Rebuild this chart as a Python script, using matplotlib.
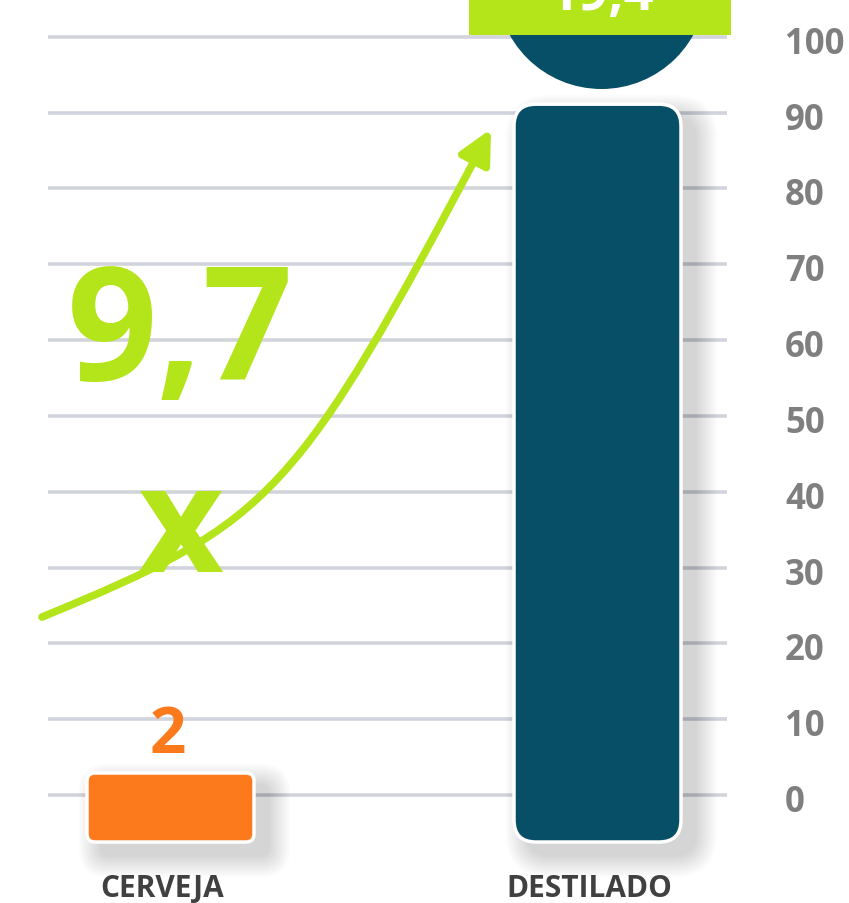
import matplotlib
matplotlib.use('Agg')
import matplotlib.pyplot as plt
from matplotlib.patches import FancyBboxPatch, Ellipse, Rectangle, FancyArrowPatch
from matplotlib.path import Path
from matplotlib.transforms import offset_copy

# ---------------- data ----------------
categories = ['CERVEJA', 'DESTILADO']
values = [2, 19.4]
value_labels = ['2', '19,4']
ratio_text = '9,7'
ratio_suffix = 'x'
# pictogram bar extents as drawn on the axis
bar_tops = [2.9, 91.1]
bar_base = -6.2
yticks = [0, 10, 20, 30, 40, 50, 60, 70, 80, 90, 100]

# ---------------- style ----------------
bar_colors = ['#FD7A1C', '#064F66']
green = '#B4E51B'
grid_color = '#D2D4DB'
tick_color = '#7F7F7F'
cat_color = '#404040'
FONT = 'Open Sans'

W, H = 849, 904
fig = plt.figure(figsize=(W / 100, H / 100), dpi=100)
ax = fig.add_axes([0, 0, 1, 1])
PX_X = 427.0      # pixels per category unit
PX_Y = 7.583      # pixels per value unit
ax.set_xlim(-170.5 / PX_X, (W - 170.5) / PX_X)
ax.set_ylim((796 - H) / PX_Y, 796 / PX_Y)
ax.axis('off')
MA = PX_X / PX_Y

# gridlines
gx0, gx1 = (48 - 170.5) / PX_X, (727 - 170.5) / PX_X
for t in yticks:
    ax.plot([gx0, gx1], [t, t], color=grid_color, lw=2.6, solid_capstyle='butt', zorder=1)

# tick labels (right side)
lab_tr = offset_copy(ax.transData, fig=fig, x=0, y=-7, units='dots')
for t in yticks:
    ax.text((785 - 170.5) / PX_X, t, str(t), transform=lab_tr, ha='left', va='center',
            fontsize=25, fontweight='bold', color=tick_color, family=FONT, zorder=5)


def add_shadow(x0, y0, w, h, r_px):
    for i in range(14):
        g = (i + 1) * 1.6
        gx, gy = g / PX_X, g / PX_Y
        dx, dy = 14 / PX_X, -13 / PX_Y
        p = FancyBboxPatch((x0 - gx + dx, y0 - gy + dy), w + 2 * gx, h + 2 * gy,
                           boxstyle=f'round,pad=0,rounding_size={(r_px + g) / PX_X}',
                           mutation_aspect=MA, fc='black', ec='none', alpha=0.012, zorder=2)
        ax.add_patch(p)


# bars
xpos = list(range(len(categories)))
bars = ax.bar(xpos, [t - bar_base for t in bar_tops], bottom=bar_base, width=167 / PX_X)
radii = [8, 22]
for rect, col, r in zip(bars, bar_colors, radii):
    x0, y0 = rect.get_x(), rect.get_y()
    w, h = rect.get_width(), rect.get_height()
    rect.remove()
    add_shadow(x0, y0, w, h, r)
    p = FancyBboxPatch((x0, y0), w, h, boxstyle=f'round,pad=0,rounding_size={r / PX_X}',
                       mutation_aspect=MA, fc=col, ec='white', lw=2.5, zorder=3)
    ax.add_patch(p)

# dot of the "i"
dot = Ellipse((xpos[1] + 4 / PX_X, (796 + 15) / PX_Y), width=210 / PX_X, height=210 / PX_Y,
              fc=bar_colors[1], ec='none', zorder=3)
ax.add_patch(dot)

# green label box for the distilled value
ax.add_patch(Rectangle(((469 - 170.5) / PX_X, (796 - 35.7) / PX_Y), 262 / PX_X, 20,
                       fc=green, ec='none', zorder=4))
ax.text(xpos[1] + 4 / PX_X, (796 - 10) / PX_Y, value_labels[1], ha='center', va='baseline',
        fontsize=38, fontweight='bold', color='white', family=FONT, zorder=5)

# value label for beer
ax.annotate(value_labels[0], (xpos[0], bar_tops[0]), xytext=(-2, 21 / 1.389),
            textcoords='offset points', ha='center', va='baseline', fontsize=46,
            fontweight='bold', color=bar_colors[0], family=FONT, zorder=5)

# ratio text
ax.text((180 - 170.5) / PX_X, (796 - 380) / PX_Y, ratio_text, ha='center', va='baseline',
        fontsize=114, fontweight='bold', color=green, family=FONT, zorder=5)
ax.text((180 - 170.5) / PX_X, (796 - 572) / PX_Y, ratio_suffix, ha='center', va='baseline',
        fontsize=107, fontweight='bold', color=green, family=FONT, zorder=5)

# growth arrow
verts = [(-0.301, 23.47), (0.241, 36.01), (0.2937, 39.23), (0.7506, 87.83)]
codes = [Path.MOVETO, Path.CURVE4, Path.CURVE4, Path.CURVE4]
arrow = FancyArrowPatch(path=Path(verts, codes), arrowstyle='-|>,head_length=20,head_width=10',
                        mutation_scale=1, lw=5.5, color=green, zorder=4)
ax.add_patch(arrow)

# category labels
for x, c in zip(xpos, categories):
    ax.text(x - 8 / PX_X, (796 - 897) / PX_Y, c, ha='center', va='baseline', fontsize=21.5,
            fontweight='bold', color=cat_color, family=FONT, zorder=5)

fig.savefig('out.png', dpi=100, facecolor='white')
